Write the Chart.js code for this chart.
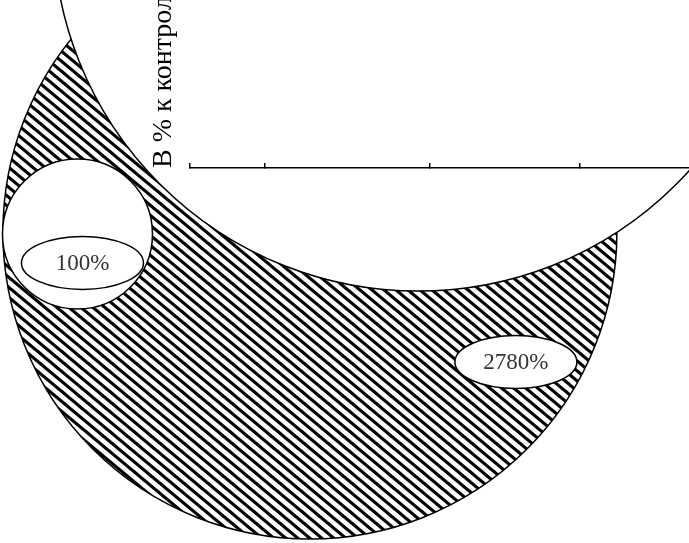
<!DOCTYPE html>
<html><head><meta charset="utf-8">
<script src="https://cdn.jsdelivr.net/npm/chart.js@4.4.1/dist/chart.umd.min.js"></script>
<style>html,body{margin:0;padding:0;background:#fff}#wrap{width:689px;height:543px;position:relative}</style>
</head><body><div id="wrap"><canvas id="c"></canvas></div>
<script>
// Bubbles (drawn in this order: hatched, large white, small white)
const bubbleNames = ['Опыт', 'Фон', 'Контроль'];
const bubbleX = [24.0, 45.7, -22.6];
const bubbleY = [-38.1, 144, -39.3];
const bubbleR = [307, 365, 75];
// Value labels (ellipses)
const valueLabels = ['2780%', '100%'];
const labelX = [65.3, -21.6];
const labelY = [-115.5, -56.5];
// Axis
const xTickValues = [0, 15, 48, 78];
const yTitle = 'В % к контролю';

function hatch() {
  const w = 12, h = 10;
  const c = document.createElement('canvas');
  c.width = w; c.height = h;
  const g = c.getContext('2d');
  g.fillStyle = '#fff'; g.fillRect(0, 0, w, h);
  g.strokeStyle = '#000'; g.lineWidth = 3.2;
  for (let k = -1; k <= 1; k++) {
    g.beginPath();
    g.moveTo(k * w - w, -h);
    g.lineTo(k * w + 2 * w, 2 * h);
    g.stroke();
  }
  return g.createPattern(c, 'repeat');
}

// let bubbles lying partly outside the plot area still be drawn, then add value labels
const fullArea = {
  id: 'fullArea',
  beforeDatasetsDraw(chart) {
    chart._savedArea = chart.chartArea;
    chart.chartArea = {left: -1000, top: -1000, right: chart.width + 1000, bottom: chart.height + 1000,
      width: chart.width + 2000, height: chart.height + 2000};
  },
  afterDatasetsDraw(chart) {
    chart.chartArea = chart._savedArea;
    const {ctx, scales: {x, y}} = chart;
    ctx.save();
    valueLabels.forEach((t, i) => {
      const px = x.getPixelForValue(labelX[i]);
      const py = y.getPixelForValue(labelY[i]);
      ctx.beginPath();
      ctx.ellipse(px, py, 61, 26.5, 0, 0, Math.PI * 2);
      ctx.fillStyle = '#fff'; ctx.fill();
      ctx.lineWidth = 1.5; ctx.strokeStyle = '#000'; ctx.stroke();
      ctx.font = '23px "Liberation Serif"';
      ctx.fillStyle = '#333'; ctx.textAlign = 'center'; ctx.textBaseline = 'middle';
      ctx.fillText(t, px, py + 1);
    });
    ctx.restore();
  }
};

new Chart(document.getElementById('c'), {
  type: 'bubble',
  data: {
    datasets: [{
      label: 'В % к контролю',
      data: bubbleX.map((v, i) => ({x: v, y: bubbleY[i], r: bubbleR[i]})),
      backgroundColor: [hatch(), '#ffffff', '#ffffff'],
      borderColor: '#000',
      borderWidth: 1.5,
      hoverRadius: 0,
      clip: false
    }]
  },
  options: {
    responsive: true,
    maintainAspectRatio: false,
    animation: false,
    events: [],
    layout: {autoPadding: false, padding: {left: 143, top: 0, right: 0, bottom: 375}},
    plugins: {legend: {display: false}, tooltip: {enabled: false}},
    scales: {
      x: {
        type: 'linear', position: 'bottom', min: 0, max: 100,
        afterBuildTicks: a => { a.ticks = xTickValues.map(v => ({value: v})); },
        afterFit: s => { s.height = 0; },
        ticks: {display: false},
        grid: {z: 1, drawOnChartArea: false, drawTicks: true, tickLength: -5, color: '#000', lineWidth: 1.5},
        border: {z: 1, display: true, color: '#000', width: 1.5}
      },
      y: {
        type: 'linear', min: 0, max: 100,
        ticks: {display: false},
        grid: {z: 1, display: false, drawTicks: false},
        border: {display: false},
        title: {display: true, text: yTitle, align: 'start', color: '#000',
          font: {family: '"Liberation Serif"', size: 28}, padding: {top: 4, bottom: 9.6}}
      }
    }
  },
  plugins: [fullArea]
});
</script>
</body></html>
